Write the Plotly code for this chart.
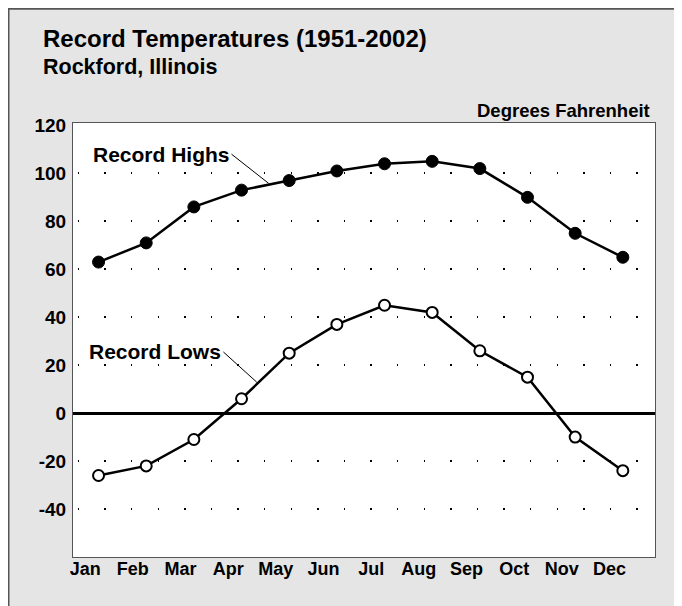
import plotly.graph_objects as go

months = ["Jan", "Feb", "Mar", "Apr", "May", "Jun",
          "Jul", "Aug", "Sep", "Oct", "Nov", "Dec"]
record_highs = [63, 71, 86, 93, 97, 101, 104, 105, 102, 90, 75, 65]
record_lows = [-26, -22, -11, 6, 25, 37, 45, 42, 26, 15, -10, -24]
y_ticks = [-40, -20, 0, 20, 40, 60, 80, 100, 120]
grid_vals = [-40, -20, 20, 40, 60, 80, 100]

FONT = "Liberation Sans, Arial, Helvetica, sans-serif"
OFF = 8  # page body margin
W, H = 682, 606
ML, MR, MT, MB = 65, 35, 115, 57
PW, PH = W - ML - MR, H - MT - MB

idx = list(range(len(months)))
xpts = [i + 0.28 for i in idx]

fig = go.Figure()
fig.add_trace(go.Scatter(
    x=xpts, y=record_highs, mode="lines+markers", name="Record Highs",
    line=dict(color="black", width=2.5),
    marker=dict(symbol="circle", size=12, color="black",
                line=dict(color="black", width=1)),
    showlegend=False, cliponaxis=False))
fig.add_trace(go.Scatter(
    x=xpts, y=record_lows, mode="lines+markers", name="Record Lows",
    line=dict(color="black", width=2.5),
    marker=dict(symbol="circle", size=11, color="white",
                line=dict(color="black", width=2)),
    showlegend=False, cliponaxis=False))

def px_x(p):
    return (p - OFF - ML) / PW

def px_y(p):
    return 1 + (MT - (p - OFF)) / PH

shapes = [
    dict(type="line", xref="paper", yref="paper", x0=px_x(8.5), x1=px_x(8.5),
         y0=px_y(8), y1=px_y(H + 20), line=dict(color="#555555", width=2), layer="below"),
    dict(type="line", xref="paper", yref="paper", x0=px_x(8), x1=px_x(W + 20),
         y0=px_y(8.7), y1=px_y(8.7), line=dict(color="#555555", width=2), layer="below"),
]

annotations = [
    dict(text="Record Temperatures (1951-2002)", xref="paper", yref="paper",
         x=px_x(41), y=px_y(38), xanchor="left", yanchor="middle", showarrow=False,
         font=dict(family=FONT, size=24, color="black", weight="bold")),
    dict(text="Rockford, Illinois", xref="paper", yref="paper",
         x=px_x(41), y=px_y(67), xanchor="left", yanchor="middle", showarrow=False,
         font=dict(family=FONT, size=21.5, color="black", weight="bold")),
    dict(text="Degrees Fahrenheit", xref="paper", yref="paper",
         x=px_x(652), y=px_y(111), xanchor="right", yanchor="middle", showarrow=False,
         font=dict(family=FONT, size=18.5, color="black", weight="bold")),
    dict(text="Record Highs", x=3.85, y=95.8, ax=3.07, ay=108,
         axref="x", ayref="y", xanchor="right", yanchor="middle",
         showarrow=True, arrowhead=0, arrowwidth=1, arrowcolor="black",
         font=dict(family=FONT, size=21, color="black", weight="bold")),
    dict(text="Record Lows", x=3.60, y=12.9, ax=2.90, ay=25.5,
         axref="x", ayref="y", xanchor="right", yanchor="middle",
         showarrow=True, arrowhead=0, arrowwidth=1, arrowcolor="black",
         font=dict(family=FONT, size=21, color="black", weight="bold")),
]

fig.update_layout(
    width=W, height=H,
    margin=dict(l=ML, r=MR, t=MT, b=MB, pad=0),
    paper_bgcolor="#e5e5e5", plot_bgcolor="white",
    shapes=shapes, annotations=annotations,
    showlegend=False,
    xaxis=dict(
        range=[-0.256, 11.955], tickmode="array", tickvals=idx, ticktext=months,
        showgrid=False, zeroline=False, ticks="", showline=True, mirror=True,
        linecolor="#555555", linewidth=1, ticklabelstandoff=-5,
        tickfont=dict(family=FONT, size=18, color="black", weight="bold"),
    ),
    yaxis=dict(
        range=[-60, 121], tickmode="array", tickvals=y_ticks,
        ticktext=[str(v) for v in y_ticks],
        showgrid=False, zeroline=True, zerolinecolor="black", zerolinewidth=2.5,
        ticks="", showline=True, mirror=True, linecolor="#555555", linewidth=1,
        ticklabelstandoff=2,
        tickfont=dict(family=FONT, size=19, color="black", weight="bold"),
        minor=dict(tickmode="array", tickvals=grid_vals, showgrid=True,
                   gridcolor="black", gridwidth=1.5,
                   griddash="0px,4.7px,1.5px,20.4px", ticks=""),
    ),
)

fig.write_html("out.html",
               post_script="document.documentElement.style.overflow='hidden';"
                           "document.body.style.overflow='hidden';")
